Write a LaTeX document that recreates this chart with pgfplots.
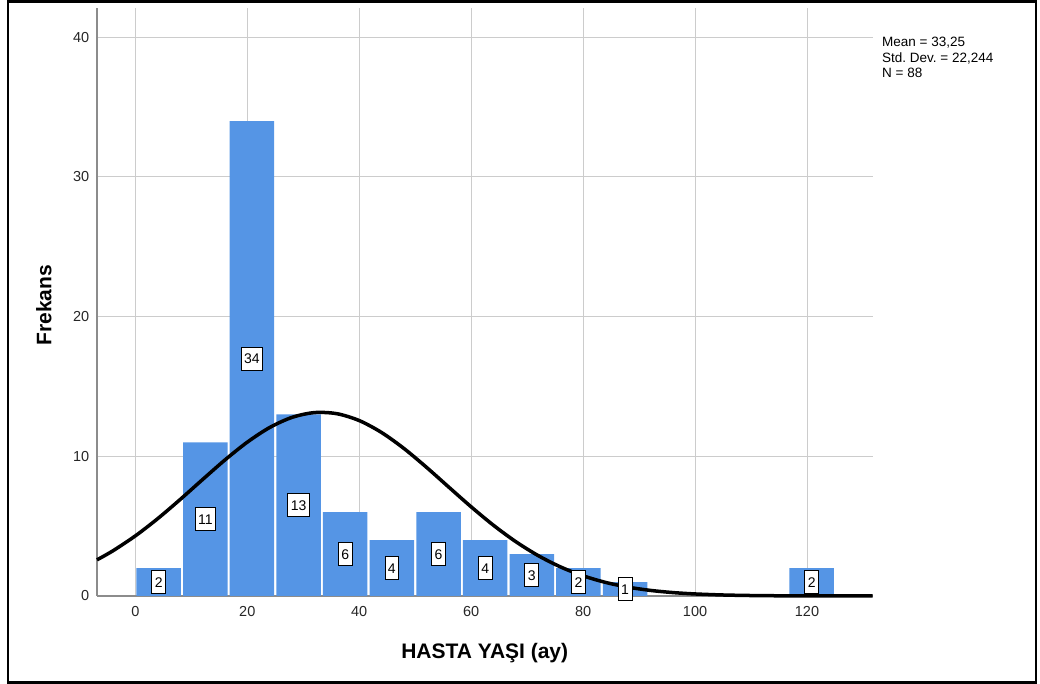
\documentclass[border=0pt]{standalone}
\usepackage{pgfplots}
\pgfplotsset{compat=1.18}
\usepackage{fontspec}
\setmainfont{Liberation Sans}
\frenchspacing
\definecolor{barblue}{RGB}{85,149,229}
\definecolor{gridgray}{RGB}{204,204,204}
\definecolor{axisgray}{RGB}{140,140,140}
\begin{document}
\begin{tikzpicture}[x=1bp,y=1bp]
\useasboundingbox (-97,-88) rectangle (943,596);
\draw[line width=2.5bp,black] (-89,-86.5) rectangle (939,594.7);
\begin{axis}[
  at={(0,0)}, anchor=south west,
  scale only axis, width=775.5bp, height=587.7bp,
  xmin=-6.85, xmax=131.7, ymin=0, ymax=42.07,
  axis x line=bottom, axis y line=left,
  axis line style={-, axisgray, line width=1.5bp},
  xtick={0,20,40,60,80,100,120}, ytick={0,10,20,30,40},
  major tick length=0pt,
  grid=major, major grid style={gridgray, line width=1bp},
  /pgf/number format/assume math mode=true,
  ticklabel style={font=\fontsize{14.5bp}{16bp}\selectfont, text=black!85},
  xticklabel style={inner sep=0pt, anchor=north, yshift=-10bp},
  yticklabel style={inner sep=0pt, anchor=east, xshift=-7.5bp},
  xlabel={HASTA YAŞI (ay)},
  ylabel={Frekans},
  label style={font=\fontsize{21bp}{24bp}\selectfont\bfseries},
  xlabel style={at={(axis description cs:0.5,-0.106)}, anchor=base, inner sep=0pt},
  ylabel style={at={(axis description cs:-0.0587,0.495)}, anchor=base, inner sep=0pt},
  clip=false,
]
% histogram bars (bin width 8.333)
\addplot[ybar, bar width=7.95, fill=barblue, draw=none] coordinates {
  (4.1667,2) (12.5,11) (20.8333,34) (29.1667,13) (37.5,6) (45.8333,4)
  (54.1667,6) (62.5,4) (70.8333,3) (79.1667,2) (87.5,1) (120.8333,2)
};
% bar count labels
\addplot[draw=none, nodes near coords, point meta=explicit symbolic,
  every node near coord/.append style={anchor=center, fill=white, draw=black,
    text=black, line width=0.9bp, inner xsep=3bp, inner ysep=6.5bp,
    text height=10bp, text depth=0bp, font=\fontsize{14bp}{16bp}\selectfont}]
  coordinates {
  (4.1667,1)[2] (12.5,5.5)[11] (20.8333,17)[34] (29.1667,6.5)[13] (37.5,3)[6]
  (45.8333,2)[4] (54.1667,3)[6] (62.5,2)[4] (70.8333,1.5)[3] (79.1667,1)[2]
  (87.5,0.5)[1] (120.8333,1)[2]
};
% normal curve (mean 33.25, sd 22.244, N=88)
\addplot[smooth, black, line width=3.5bp] coordinates {
  (-6.85,2.589) (-4,3.236) (0,4.303) (4,5.539) (8,6.905) (12,8.332) (16,9.735)
  (20,11.012) (24,12.061) (28,12.788) (32,13.129) (36,13.050) (40,12.558)
  (44,11.701) (48,10.556) (52,9.218) (56,7.794) (60,6.381) (64,5.057)
  (68,3.881) (72,2.884) (76,2.074) (80,1.445) (84,0.974) (88,0.636)
  (92,0.402) (96,0.246) (100,0.146) (105,0.072) (110,0.034) (115,0.015)
  (120,0.006) (125,0.002) (131.7,0.0003)
};
\end{axis}
\begin{scope}[font=\fontsize{13.5bp}{15.5bp}\selectfont]
\node[anchor=base west, inner sep=0pt] at (785,549) {Mean = 33,25};
\node[anchor=base west, inner sep=0pt] at (785,533.5) {Std. Dev. = 22,244};
\node[anchor=base west, inner sep=0pt] at (785,518) {N = 88};
\end{scope}
\end{tikzpicture}
\end{document}
